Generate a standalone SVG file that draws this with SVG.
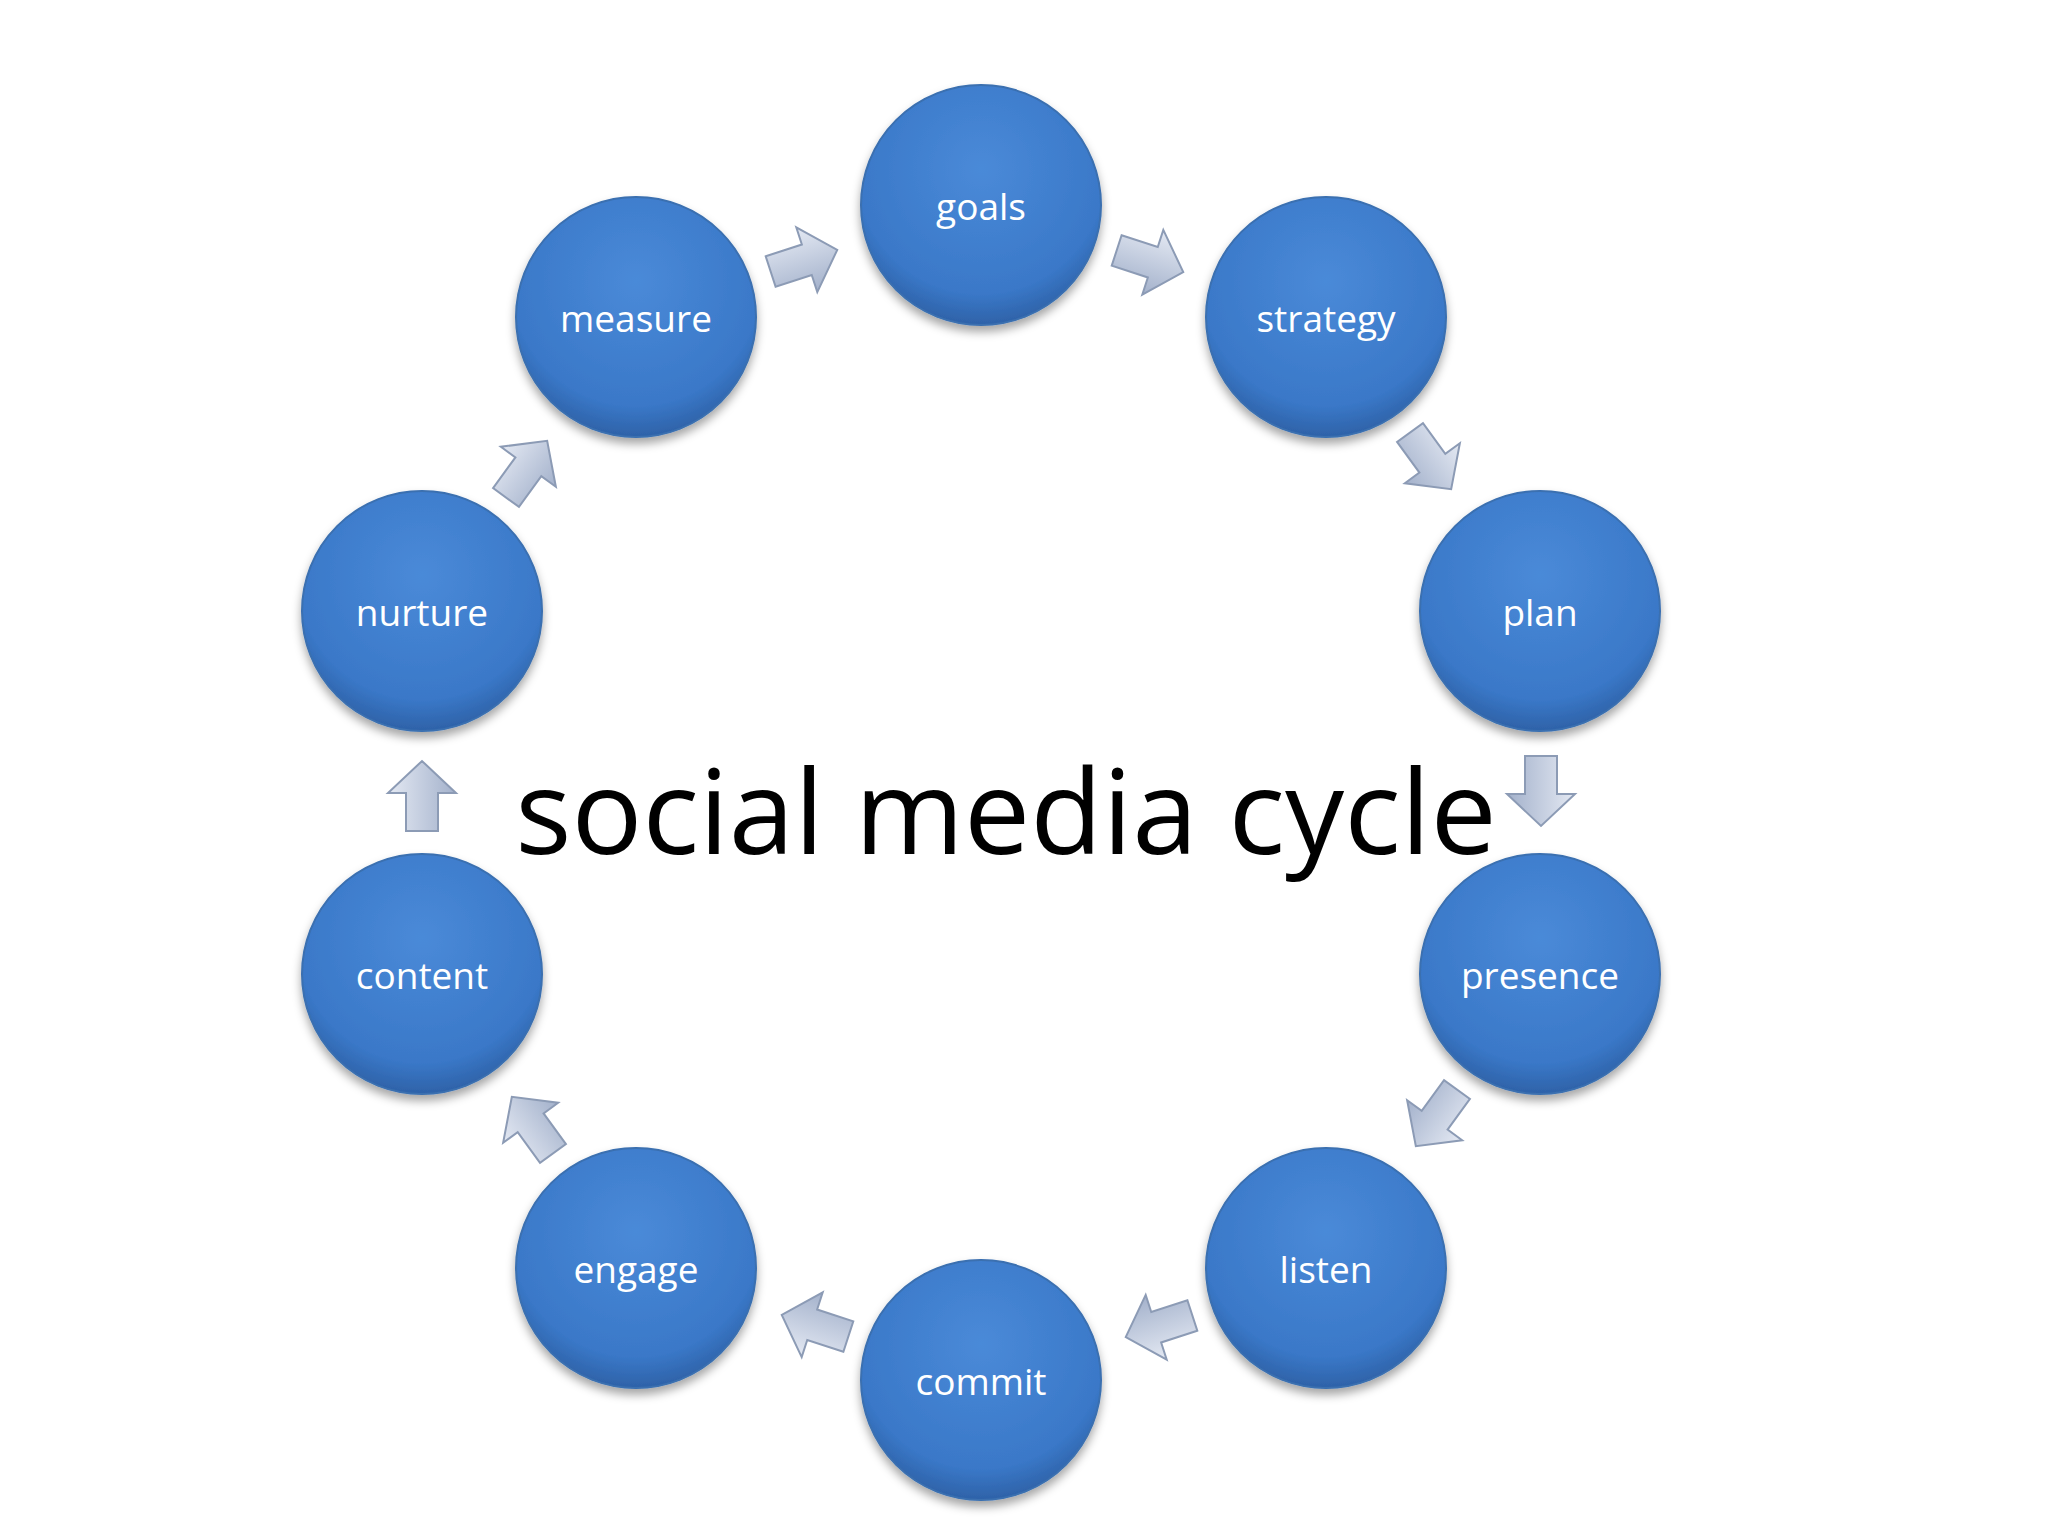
<svg xmlns="http://www.w3.org/2000/svg" width="2048" height="1536" viewBox="0 0 2048 1536">
<style>
.lbl{font-family:"Open Sans","Liberation Sans",sans-serif;font-size:37px;fill:#fff;text-anchor:middle;dominant-baseline:central}
.title{font-family:"Open Sans","Liberation Sans",sans-serif;font-size:118px;fill:#000;text-anchor:middle;dominant-baseline:central}
.node{fill:url(#ng);stroke:#3a6fb0;stroke-width:2;filter:url(#sh)}
.arr{fill:url(#ag);stroke:#8c9bb5;stroke-width:2}
</style>
<defs>
<radialGradient id="ng" cx="50%" cy="35%" r="65%">
<stop offset="0" stop-color="#4a8ad8"/><stop offset="0.8" stop-color="#3a78c8"/><stop offset="1" stop-color="#2e62a8"/>
</radialGradient>
<linearGradient id="ag" x1="0" y1="0" x2="0" y2="1">
<stop offset="0" stop-color="#e4e9f3"/><stop offset="1" stop-color="#a3b1cb"/>
</linearGradient>
<filter id="sh" x="-20%" y="-20%" width="140%" height="150%">
<feDropShadow dx="0" dy="6" stdDeviation="5" flood-color="#000" flood-opacity="0.35"/>
</filter>
<path id="a" d="M-34,-16 L4,-16 L4,-34 L36,0 L4,34 L4,16 L-34,16 Z"/>
</defs>
<rect width="2048" height="1536" fill="#fff"/>
<g id="connectors">
<use href="#a" class="arr" transform="translate(1149,261) rotate(18)"/>
<use href="#a" class="arr" transform="translate(1430,460) rotate(54)"/>
<use href="#a" class="arr" transform="translate(1541,790) rotate(90)"/>
<use href="#a" class="arr" transform="translate(1437,1117) rotate(126)"/>
<use href="#a" class="arr" transform="translate(1160,1326) rotate(162)"/>
<use href="#a" class="arr" transform="translate(816,1326) rotate(198)"/>
<use href="#a" class="arr" transform="translate(533,1126) rotate(234)"/>
<use href="#a" class="arr" transform="translate(422,797) rotate(270)"/>
<use href="#a" class="arr" transform="translate(526,470) rotate(306)"/>
<use href="#a" class="arr" transform="translate(803,261) rotate(342)"/>
</g>
<g id="goals"><circle class="node" cx="981" cy="205" r="120"/><text class="lbl" x="981" y="205">goals</text></g>
<g id="strategy"><circle class="node" cx="1326" cy="317" r="120"/><text class="lbl" x="1326" y="317">strategy</text></g>
<g id="plan"><circle class="node" cx="1540" cy="611" r="120"/><text class="lbl" x="1540" y="611">plan</text></g>
<g id="presence"><circle class="node" cx="1540" cy="974" r="120"/><text class="lbl" x="1540" y="974">presence</text></g>
<g id="listen"><circle class="node" cx="1326" cy="1268" r="120"/><text class="lbl" x="1326" y="1268">listen</text></g>
<g id="commit"><circle class="node" cx="981" cy="1380" r="120"/><text class="lbl" x="981" y="1380">commit</text></g>
<g id="engage"><circle class="node" cx="636" cy="1268" r="120"/><text class="lbl" x="636" y="1268">engage</text></g>
<g id="content"><circle class="node" cx="422" cy="974" r="120"/><text class="lbl" x="422" y="974">content</text></g>
<g id="nurture"><circle class="node" cx="422" cy="611" r="120"/><text class="lbl" x="422" y="611">nurture</text></g>
<g id="measure"><circle class="node" cx="636" cy="317" r="120"/><text class="lbl" x="636" y="317">measure</text></g>
<g id="title"><text class="title" x="1006" y="808">social media cycle</text></g>
</svg>
